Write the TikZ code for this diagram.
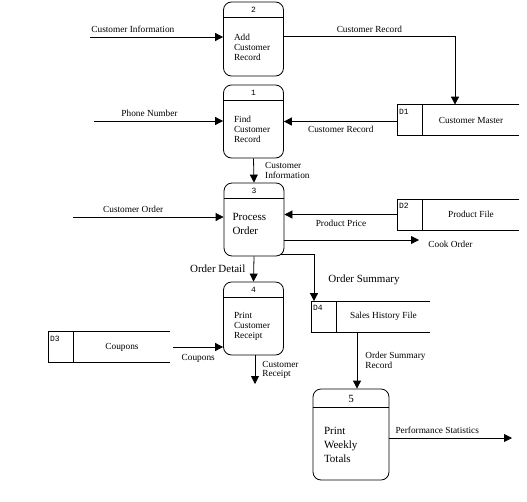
\documentclass[tikz,border=0pt]{standalone}
\usepackage{fontspec}
\setmainfont{Liberation Serif}
\setmonofont{Liberation Mono}
\usetikzlibrary{arrows.meta}

\tikzset{
  lbl/.style={font=\fontsize{9.3}{10}\selectfont, inner sep=1pt, align=left},
  big/.style={font=\fontsize{11}{14}\selectfont},
  proc/.style={draw, rounded corners=8pt, minimum width=60pt, minimum height=73pt, inner sep=0pt},
  ptext/.style={anchor=west, align=left, inner sep=0pt, font=\fontsize{9.3}{10}\selectfont},
  pnum/.style={inner sep=0pt, font=\ttfamily\fontsize{8}{9}\selectfont},
  sname/.style={minimum width=96pt, minimum height=30pt, inner sep=0pt, font=\fontsize{9.3}{10}\selectfont},
  sid/.style={anchor=north west, inner sep=1pt, yshift=-3pt, font=\ttfamily\fontsize{8}{9}\selectfont}
}

\begin{document}
\begin{tikzpicture}[x=1pt, y=-1pt, line width=0.8pt, >={Triangle[length=8pt,width=8pt]}]
  \useasboundingbox (0,0) rectangle (527,501);

  % processes
  \node (p2) [proc, minimum height=74pt] at (253.5,39) {};
  \node (p1) [proc] at (253.5,121.5) {};
  \node (p3) [proc] at (254,219.5) {};
  \node (p4) [proc] at (253.5,318.5) {};
  \node (p5) [proc, minimum width=76pt, minimum height=91pt] at (351,434.5) {};
  \foreach \p/\n in {p2/2, p1/1, p3/3, p4/4} {
    \draw ([yshift=-16pt]\p.north west) -- ([yshift=-16pt]\p.north east);
    \node (\p-num) [pnum] at ([yshift=-8pt]\p.north) {\n};
  }
  \draw ([yshift=-19pt]p5.north west) -- ([yshift=-19pt]p5.north east);
  \node (p5-num) [big, inner sep=0pt] at ([yshift=-10pt]p5.north) {5};

  \node (p2-txt) [ptext] at ([xshift=10.5pt,yshift=-8pt]p2.west) {Add\\Customer\\Record};
  \node (p1-txt) [ptext] at ([xshift=10.5pt,yshift=-8pt]p1.west) {Find\\Customer\\Record};
  \node (p3-txt) [ptext, big] at ([xshift=8.5pt,yshift=-4pt]p3.west) {Process\\Order};
  \node (p4-txt) [ptext] at ([xshift=10.5pt,yshift=-8pt]p4.west) {Print\\Customer\\Receipt};
  \node (p5-txt) [ptext, big] at ([xshift=11pt,yshift=-10pt]p5.west) {Print\\Weekly\\Totals};

  % data stores
  \node (d1) [sname] at (471,120) {Customer Master};
  \node (d2) [sname] at (471,214.5) {Product File};
  \node (d4) [sname, minimum width=93pt] at (383.5,316.5) {Sales History File};
  \node (d3) [sname] at (122,347) {Coupons};
  \foreach \d/\n in {d1/D1, d2/D2, d4/D4, d3/D3} {
    \draw (\d.north east) -- ([xshift=-25pt]\d.north west) -- ([xshift=-25pt]\d.south west) -- (\d.south east)
          (\d.north west) -- (\d.south west);
    \node (\d-id) [sid] at ([xshift=-25pt]\d.north west) {\n};
  }

  % free ends
  \coordinate (ci) at (90,37);
  \coordinate (pn) at (94,121);
  \coordinate (co) at (73,217);
  \coordinate (ck) at (419,240);
  \coordinate (os) at (314,254);
  \coordinate (cr) at (255,384);
  \coordinate (ps) at (512,438);

  % flows
  \draw[->] (ci) -- (ci -| p2.west) node [lbl, above right, pos=0, yshift=3pt] {Customer Information};
  \draw[->] ([yshift=3pt]p2.east) -| ([xshift=-16pt]d1.north) node [lbl, above, pos=0.25, yshift=2pt] {Customer Record};
  \draw[->] (pn) -- (pn -| p1.west) node [lbl, above, pos=0.43, yshift=3pt] {Phone Number};
  \draw[->] (p1.east -| d1-id.west) -- (p1.east) node [lbl, below, midway, yshift=-3pt] {Customer Record};
  \draw[->] (p1.south) -- (p3.north) node [lbl, right, midway, xshift=10pt, font=\fontsize{9.3}{9.5}\selectfont] {Customer\\Information};
  \draw[->] (co) -- (co -| p3.west) node [lbl, above, pos=0.4, yshift=3pt] {Customer Order};
  \draw[->] (d2.west -| d2-id.west) -- (d2.west -| p3.east) node [lbl, below, midway, yshift=-4pt] {Product Price};
  \draw[->] (ck -| p3.east) -- (ck) node [lbl, right, xshift=8pt, yshift=-4pt] {Cook Order};
  \draw[->] (p3.south) -- (p4.north) node [lbl, big, left, midway, xshift=-7pt] {Order Detail};
  \draw[->] ([xshift=-4pt]p3.south east |- os) -- (os) -- (os |- d4.north) node [lbl, big, right, midway, xshift=13pt, yshift=-2pt] {Order Summary};
  \draw[->] ([xshift=3pt]d3.east) -- (d3.east -| p4.west) node [lbl, below, midway, yshift=-6pt] {Coupons};
  \draw[->] (p4.south -| cr) -- (cr) node [lbl, right, midway, xshift=6pt, font=\fontsize{9.3}{9.5}\selectfont] {Customer\\Receipt};
  \draw[->] ([xshift=6pt]p5.north |- d4.south) -- ([xshift=6pt]p5.north) node [lbl, right, midway, xshift=7pt, font=\fontsize{9.3}{9.5}\selectfont] {Order Summary\\Record};
  \draw[->] (p5.east |- ps) -- (ps) node [lbl, above, pos=0.39, yshift=3pt] {Performance Statistics};
\end{tikzpicture}
\end{document}
